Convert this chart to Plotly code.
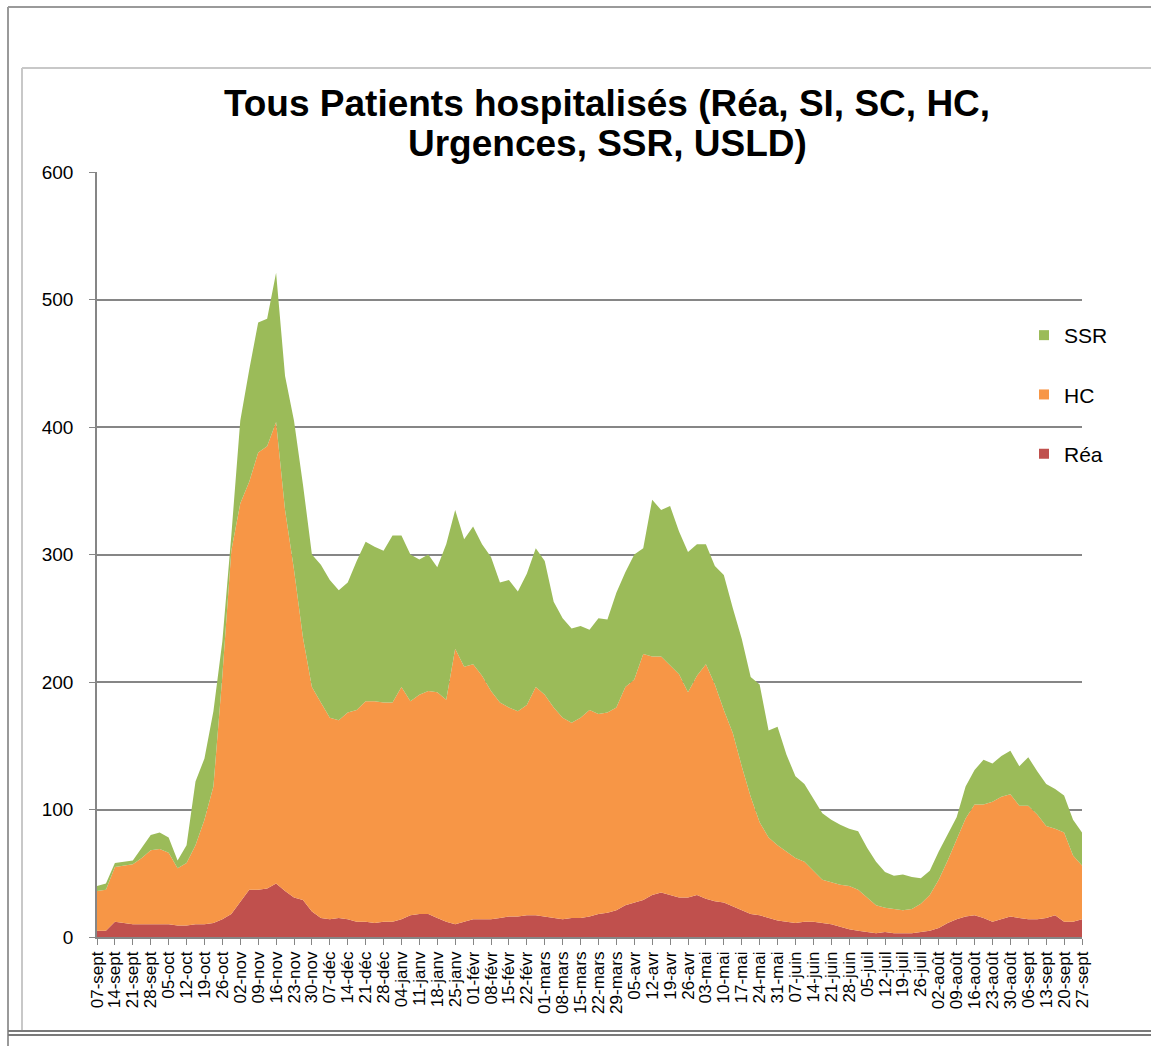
import pandas as pd
import plotly.graph_objects as go

# half-weekly samples from 2020-09-07 to 2021-09-27
dates = pd.date_range("2020-09-07", periods=111, freq="84h")

rea = [5, 5, 12, 11, 10, 10, 10, 10, 10, 9, 9, 10, 10, 11, 14, 18, 28, 37, 37, 38,
       42, 36, 31, 29, 20, 15, 14, 15, 14, 12, 12, 11, 12, 12, 14, 17, 18, 18, 15, 12,
       10, 12, 14, 14, 14, 15, 16, 16, 17, 17, 16, 15, 14, 15, 15, 16, 18, 19, 21, 25,
       27, 29, 33, 35, 33, 31, 31, 33, 30, 28, 27, 24, 21, 18, 17, 15, 13, 12, 11, 12,
       12, 11, 10, 8, 6, 5, 4, 3, 4, 3, 3, 3, 4, 5, 7, 11, 14, 16, 17, 15,
       12, 14, 16, 15, 14, 14, 15, 17, 12, 12, 14]

hc = [31, 32, 43, 45, 47, 52, 58, 59, 56, 45, 49, 62, 82, 107, 191, 285, 312, 320, 343, 347,
      362, 299, 257, 206, 176, 169, 158, 155, 162, 166, 173, 174, 172, 172, 182, 168, 172, 175, 177, 174,
      216, 200, 200, 191, 179, 169, 164, 161, 165, 179, 174, 165, 158, 153, 157, 162, 157, 157, 159, 171,
      175, 193, 187, 185, 180, 175, 161, 172, 184, 170, 151, 136, 113, 92, 73, 63, 59, 55, 51, 47,
      40, 34, 33, 33, 34, 32, 27, 22, 19, 19, 18, 19, 22, 28, 38, 49, 63, 77, 87, 89,
      94, 96, 96, 88, 89, 82, 72, 68, 70, 52, 42]

ssr = [4, 5, 3, 3, 3, 8, 12, 13, 12, 6, 14, 50, 48, 59, 27, 12, 65, 88, 102, 100,
       117, 105, 117, 120, 104, 108, 108, 102, 102, 117, 125, 121, 119, 131, 119, 115, 106, 107, 98, 122,
       109, 100, 108, 103, 105, 94, 100, 94, 103, 109, 105, 83, 78, 74, 72, 63, 75, 73, 90, 90,
       98, 83, 123, 115, 125, 112, 110, 103, 94, 93, 106, 98, 100, 94, 108, 84, 93, 76, 64, 61,
       56, 52, 49, 47, 45, 46, 39, 34, 28, 26, 28, 25, 20, 19, 22, 20, 17, 25, 27, 35,
       30, 32, 34, 31, 38, 34, 33, 31, 29, 28, 26]

week_labels = ["07-sept", "14-sept", "21-sept", "28-sept", "05-oct", "12-oct", "19-oct", "26-oct",
               "02-nov", "09-nov", "16-nov", "23-nov", "30-nov", "07-déc", "14-déc", "21-déc",
               "28-déc", "04-janv", "11-janv", "18-janv", "25-janv", "01-févr", "08-févr", "15-févr",
               "22-févr", "01-mars", "08-mars", "15-mars", "22-mars", "29-mars", "05-avr", "12-avr",
               "19-avr", "26-avr", "03-mai", "10-mai", "17-mai", "24-mai", "31-mai", "07-juin",
               "14-juin", "21-juin", "28-juin", "05-juil", "12-juil", "19-juil", "26-juil", "02-août",
               "09-août", "16-août", "23-août", "30-août", "06-sept", "13-sept", "20-sept", "27-sept"]
week_dates = pd.date_range("2020-09-07", periods=len(week_labels), freq="7D")

title_line1 = "Tous Patients hospitalisés (Réa, SI, SC, HC,"
title_line2 = "Urgences, SSR, USLD)"

series = [("Réa", rea, "#C0504D"), ("HC", hc, "#F79646"), ("SSR", ssr, "#9BBB59")]

fig = go.Figure()
for name, vals, col in series:
    fig.add_trace(go.Scatter(x=dates, y=vals, name=name, stackgroup="one", mode="lines",
                             line=dict(width=0, color=col), fillcolor=col, showlegend=False,
                             hoverinfo="x+y+name"))
# legend entries as small squares (SSR on top)
for gi, (name, vals, col) in enumerate(reversed(series)):
    fig.add_trace(go.Scatter(x=[None], y=[None], name=name, mode="markers",
                             marker=dict(symbol="square", size=10, color=col),
                             legendgroup="g%d" % gi, showlegend=True))

W, H = 1151, 1046
L, R, T, B = 97, 1082, 172, 937

def px(x):
    return (x - L) / (R - L)

def py(y):
    return (B - y) / (B - T)

frame = "#9a9a9a"
shapes = [
    dict(type="line", xref="paper", yref="paper", x0=px(8), x1=px(1151), y0=py(7), y1=py(7),
         line=dict(color=frame, width=2)),
    dict(type="line", xref="paper", yref="paper", x0=px(8), x1=px(8), y0=py(7), y1=py(1046),
         line=dict(color=frame, width=2)),
    dict(type="line", xref="paper", yref="paper", x0=px(22), x1=px(1151), y0=py(68), y1=py(68),
         line=dict(color="#c8c8c8", width=2)),
    dict(type="line", xref="paper", yref="paper", x0=px(22), x1=px(22), y0=py(68), y1=py(1032),
         line=dict(color="#c8c8c8", width=2)),
    dict(type="line", xref="paper", yref="paper", x0=px(8), x1=px(1151), y0=py(1031), y1=py(1031),
         line=dict(color="#7a7a7a", width=2)),
    dict(type="line", xref="paper", yref="paper", x0=px(8), x1=px(1151), y0=py(1035), y1=py(1035),
         line=dict(color="#7a7a7a", width=2)),
]

fig.update_layout(
    width=W, height=H,
    margin=dict(l=L, r=W - R, t=T, b=H - B, pad=0),
    paper_bgcolor="white", plot_bgcolor="white",
    font=dict(family="Liberation Sans, Arial, sans-serif", color="#000000"),
    title=dict(text="<b>%s</b>" % title_line1,
               x=607 / W, xanchor="center", y=1 - 103 / H, yanchor="middle",
               font=dict(size=37, color="#000000")),
    annotations=[dict(text="<b>%s</b>" % title_line2, xref="paper", yref="paper",
                      x=px(607), y=py(144), xanchor="center", yanchor="middle",
                      showarrow=False, font=dict(size=37, color="#000000"))],
    showlegend=True,
    legend=dict(x=px(1024), y=py(315), xanchor="left", yanchor="top",
                font=dict(size=21, color="#000000"), tracegroupgap=29,
                itemwidth=30, bgcolor="rgba(0,0,0,0)"),
    shapes=shapes,
)
fig.update_xaxes(
    type="date", range=[dates[0], dates[-1]],
    tickmode="array", tickvals=week_dates, ticktext=week_labels,
    tickangle=-90, tickfont=dict(size=17, color="#000000"),
    ticks="outside", ticklen=6, tickcolor="#868686",
    showline=True, linecolor="#868686", linewidth=1.5,
    showgrid=False, zeroline=False,
)
fig.update_yaxes(
    range=[0, 600], dtick=100, tick0=0,
    tickfont=dict(size=19, color="#000000"),
    ticks="outside", ticklen=6, tickcolor="#868686",
    ticklabelstandoff=12,
    showline=True, linecolor="#868686", linewidth=1.5,
    showgrid=True, gridcolor="#868686", gridwidth=1.5, zeroline=False,
)

fig.write_html("out.html", config={"displayModeBar": False},
               post_script="document.body.style.margin='0px';document.body.style.overflow='hidden';")
